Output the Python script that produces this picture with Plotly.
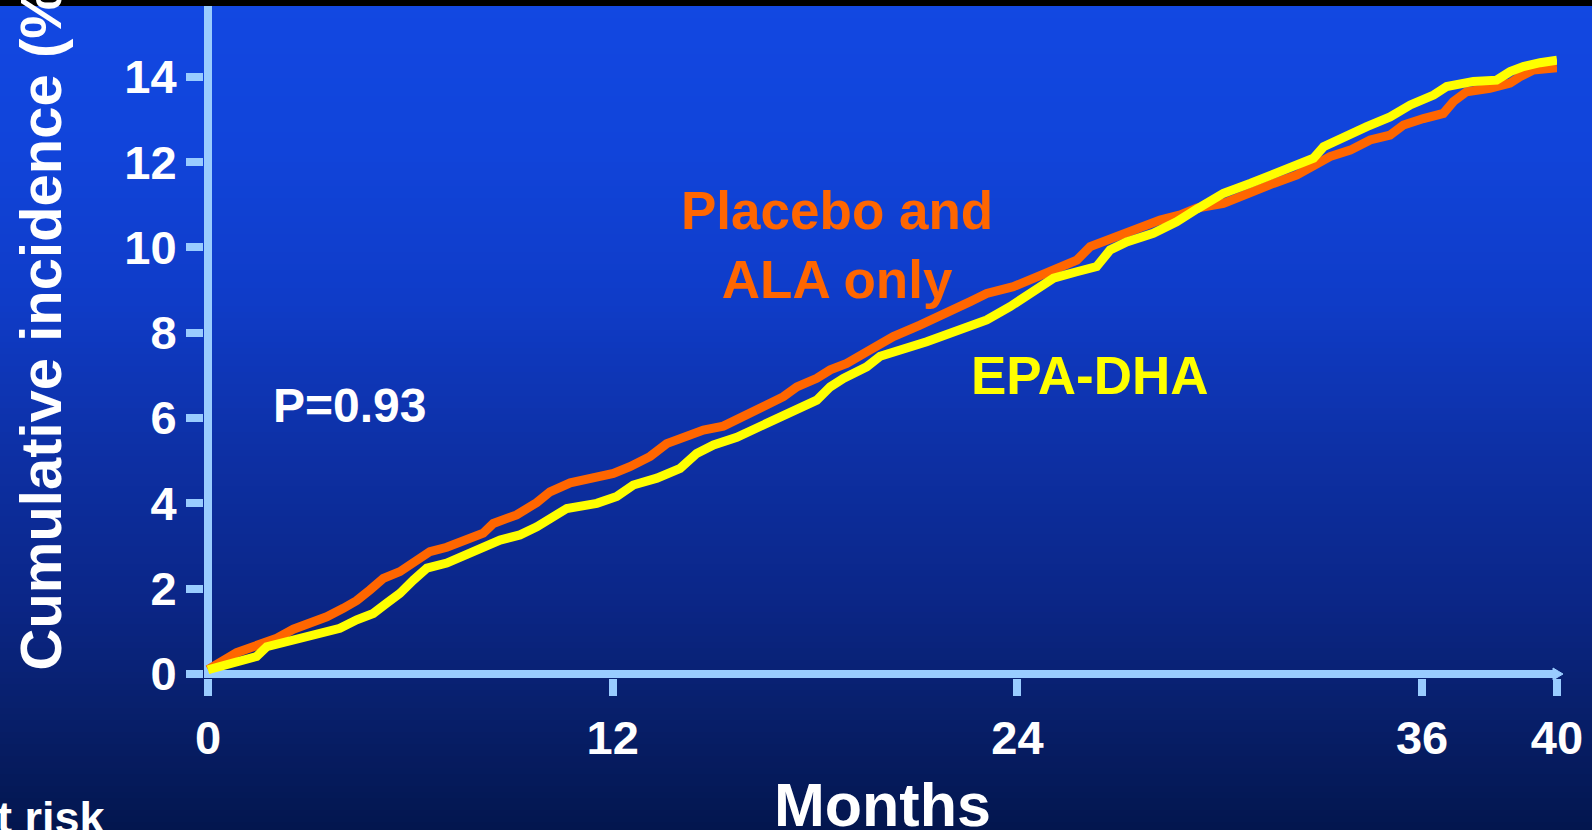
import numpy as np
import plotly.graph_objects as go

# Cumulative incidence (%) by month
placebo_months = [0, 0.45, 0.85, 1.34, 2.04, 2.53, 3.02, 3.52, 4.01, 4.41, 4.8, 5.2, 5.69, 6.09,
                  6.58, 7.08, 7.57, 8.16, 8.46, 9.15, 9.75, 10.14, 10.74, 11.43, 12.02, 12.51,
                  13.11, 13.6, 14.1, 14.69, 15.28, 15.87, 16.47, 17.06, 17.46, 18.05, 18.45,
                  18.94, 19.53, 20.32, 21.11, 21.9, 22.6, 23.09, 23.88, 24.58, 25.27, 25.76,
                  26.16, 26.75, 27.54, 28.23, 28.83, 29.32, 30.11, 30.9, 31.59, 32.29, 32.68,
                  33.27, 33.87, 34.46, 35.05, 35.45, 36.04, 36.63, 36.93, 37.32, 38.01, 38.61,
                  38.9, 39.3, 40]
placebo_pct = [0.1, 0.29, 0.5, 0.64, 0.84, 1.05, 1.17, 1.34, 1.54, 1.72, 1.97, 2.24, 2.4, 2.61,
               2.87, 2.97, 3.1, 3.3, 3.53, 3.73, 4.02, 4.27, 4.48, 4.59, 4.7, 4.86,
               5.1, 5.4, 5.56, 5.72, 5.81, 6.03, 6.23, 6.5, 6.73, 6.93, 7.13,
               7.28, 7.55, 7.91, 8.18, 8.45, 8.73, 8.92, 9.08, 9.31, 9.51, 9.7,
               10.02, 10.21, 10.41, 10.64, 10.76, 10.92, 11.03, 11.31, 11.5, 11.7, 11.85,
               12.13, 12.28, 12.52, 12.63, 12.87, 13.02, 13.14, 13.42, 13.65, 13.73, 13.85,
               14.0, 14.16, 14.21]

epa_months = [0, 0.95, 1.44, 1.74, 2.14, 2.73, 3.32, 3.91, 4.41, 4.9, 5.3, 5.69, 6.09, 6.49,
              7.08, 7.67, 8.16, 8.66, 9.25, 9.75, 10.64, 11.53, 12.12, 12.61, 13.31, 14.0,
              14.49, 14.99, 15.68, 16.27, 16.86, 17.46, 18.05, 18.45, 18.84, 19.53, 19.93,
              21.31, 22.3, 23.09, 23.78, 24.48, 25.07, 25.76, 26.35, 26.75, 27.24, 28.03,
              28.72, 29.32, 30.11, 30.9, 31.59, 32.29, 32.78, 33.08, 33.67, 34.36, 35.05,
              35.65, 36.34, 36.73, 37.52, 38.21, 38.61, 39.0, 39.5, 40]
epa_pct = [0.1, 0.29, 0.41, 0.64, 0.72, 0.87, 0.99, 1.07, 1.27, 1.42, 1.66, 1.89, 2.2, 2.48,
           2.6, 2.79, 2.98, 3.14, 3.26, 3.45, 3.88, 4.0, 4.16, 4.43, 4.59, 4.82,
           5.17, 5.37, 5.55, 5.76, 6.0, 6.19, 6.42, 6.73, 6.93, 7.2, 7.45,
           7.79, 8.1, 8.3, 8.61, 9.0, 9.28, 9.43, 9.55, 9.94, 10.13, 10.33,
           10.6, 10.9, 11.27, 11.5, 11.7, 11.93, 12.09, 12.36, 12.59, 12.83, 13.06,
           13.34, 13.57, 13.77, 13.89, 13.92, 14.12, 14.24, 14.33, 14.39]

x_ticks = [0, 12, 24, 36, 40]
y_ticks = [0, 2, 4, 6, 8, 10, 12, 14]

W, H = 1592, 830
ML, MR, MT, MB = 204, 35, 0, 152
PW, PH = W - ML - MR, H - MT - MB

AXIS_BLUE = "#99ccff"
FONT = "Liberation Sans, Arial, sans-serif"


def px_to_paper(px, py):
    return (px - ML) / PW, (H - MB - py) / PH


# vertical blue gradient behind everything
stops_y = [0, 150, 300, 450, 600, 700, 830]
stops_rgb = np.array([[18, 72, 226], [17, 68, 218], [15, 60, 200], [13, 48, 165],
                      [11, 38, 135], [8, 32, 110], [3, 22, 78]], dtype=float)
shapes = []
band = 6
for top in range(0, H, band):
    mid = top + band / 2
    c = [np.interp(mid, stops_y, stops_rgb[:, k]) for k in range(3)]
    x0, y0 = px_to_paper(0, top + band + 1)
    x1, y1 = px_to_paper(W, top)
    shapes.append(dict(type="rect", xref="paper", yref="paper", x0=x0, x1=x1, y0=y0, y1=y1,
                       fillcolor="rgb(%d,%d,%d)" % tuple(int(round(v)) for v in c),
                       line=dict(width=0), layer="below"))

# black strip along the top edge
x0, y0 = px_to_paper(0, 6)
x1, y1 = px_to_paper(W, -2)
shapes.append(dict(type="rect", xref="paper", yref="paper", x0=x0, x1=x1, y0=y0, y1=y1,
                   fillcolor="black", line=dict(width=0), layer="above"))

# small arrowhead at the end of the time axis
ax0, ay0 = px_to_paper(1553, 668)
ax1, ay1 = px_to_paper(1563, 674)
ax2, ay2 = px_to_paper(1553, 680)
shapes.append(dict(type="path", xref="paper", yref="paper",
                   path=f"M {ax0},{ay0} L {ax1},{ay1} L {ax2},{ay2} Z",
                   fillcolor=AXIS_BLUE, line=dict(color=AXIS_BLUE, width=1), layer="above"))

fig = go.Figure()
fig.add_trace(go.Scatter(x=placebo_months, y=placebo_pct, mode="lines",
                         line=dict(color="#ff6600", width=9), name="Placebo and ALA only"))
fig.add_trace(go.Scatter(x=epa_months, y=epa_pct, mode="lines",
                         line=dict(color="#ffff00", width=9), name="EPA-DHA"))

x_per_px = 1 / 33.72
y_per_px = 1 / 42.66

fig.update_layout(
    width=W, height=H,
    margin=dict(l=ML, r=MR, t=MT, b=MB, pad=0),
    paper_bgcolor="rgb(3,22,78)",
    plot_bgcolor="rgba(0,0,0,0)",
    showlegend=False,
    shapes=shapes,
    font=dict(family=FONT, color="white", weight="bold"),
    xaxis=dict(
        range=[-4 * x_per_px, 40], tickvals=x_ticks, ticktext=[str(v) for v in x_ticks],
        showgrid=False, showline=False,
        zeroline=True, zerolinecolor=AXIS_BLUE, zerolinewidth=8,
        ticks="outside", ticklen=17, tickwidth=8, tickcolor=AXIS_BLUE,
        ticklabelstandoff=2,
        tickfont=dict(family=FONT, size=47, color="white", weight="bold"),
        fixedrange=True,
    ),
    yaxis=dict(
        range=[-4 * y_per_px, 674 * y_per_px], tickvals=y_ticks,
        ticktext=[str(v) for v in y_ticks],
        showgrid=False, showline=False,
        zeroline=True, zerolinecolor=AXIS_BLUE, zerolinewidth=8,
        ticks="outside", ticklen=17, tickwidth=8, tickcolor=AXIS_BLUE,
        tickfont=dict(family=FONT, size=47, color="white", weight="bold"),
        fixedrange=True,
    ),
)

# axis titles
tx, ty = px_to_paper(40, 673)
fig.add_annotation(text="Cumulative incidence (%)", xref="paper", yref="paper", x=tx, y=ty,
                   xanchor="center", yanchor="bottom", textangle=-90, showarrow=False,
                   font=dict(family=FONT, size=58, color="white", weight="bold"))

mx, my = px_to_paper(882, 805)
fig.add_annotation(text="Months", xref="paper", yref="paper", x=mx, y=my,
                   xanchor="center", yanchor="middle", showarrow=False,
                   font=dict(family=FONT, size=61, color="white", weight="bold"))

fig.add_annotation(text="Placebo and<br>ALA only", x=18.65, y=10.06, showarrow=False,
                   font=dict(family=FONT, size=53, color="#ff6600", weight="bold"))
fig.add_annotation(text="EPA-DHA", x=26.16, y=7.0, showarrow=False,
                   font=dict(family=FONT, size=53, color="#ffff00", weight="bold"))
fig.add_annotation(text="P=0.93", x=4.21, y=6.3, showarrow=False,
                   font=dict(family=FONT, size=48, color="white", weight="bold"))

rx, ry = px_to_paper(108, 845)
fig.add_annotation(text="No. at risk", xref="paper", yref="paper", x=rx, y=ry,
                   xanchor="right", yanchor="bottom", showarrow=False,
                   font=dict(family=FONT, size=45, color="white", weight="bold"))

fig.write_html("out.html", config={"displayModeBar": False})
